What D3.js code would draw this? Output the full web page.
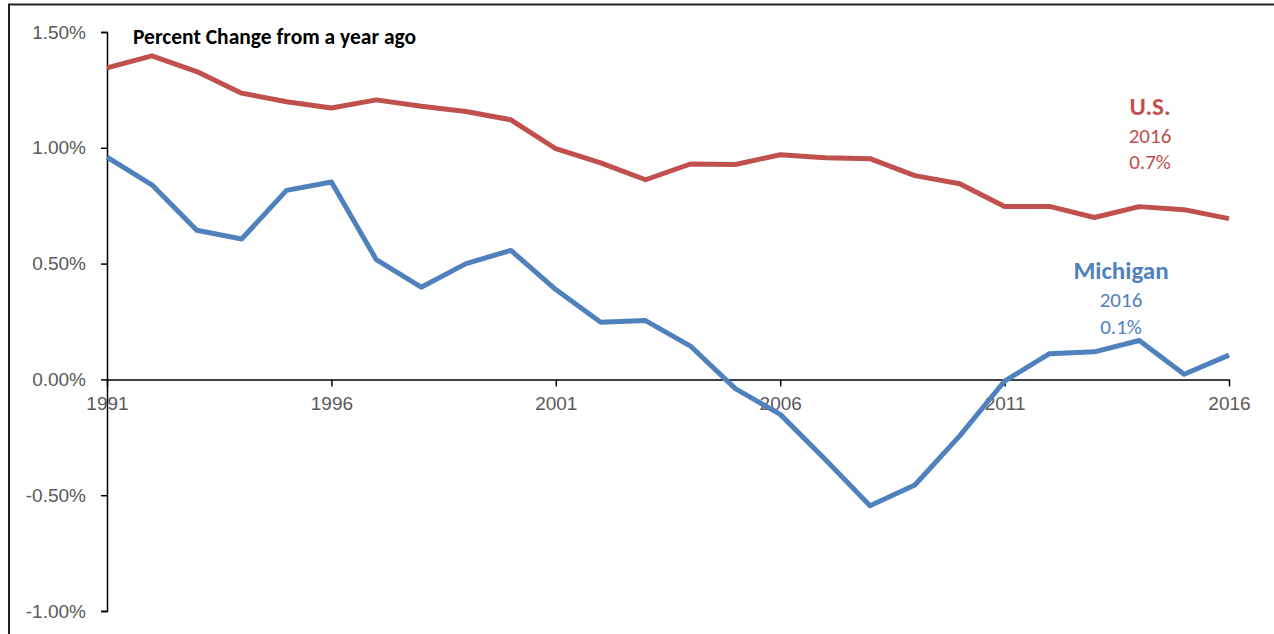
<!DOCTYPE html>
<html>
<head>
<meta charset="utf-8">
<script src="https://cdn.jsdelivr.net/npm/d3@7"></script>
<style>
  body { margin: 0; background: #fff; }
  svg { display: block; font-family: Carlito, Calibri, Lato, "Open Sans", sans-serif; }
  .tick text { fill: #595959; font-size: 19px; }
</style>
</head>
<body>
<div id="chart"></div>
<script>
var years = d3.range(1991, 2017);

// percent change from a year ago
var usValues = [1.345, 1.397, 1.329, 1.236, 1.199, 1.172, 1.207, 1.179, 1.157, 1.121,
  0.996, 0.935, 0.862, 0.930, 0.928, 0.970, 0.957, 0.953, 0.880, 0.845,
  0.747, 0.747, 0.699, 0.746, 0.733, 0.694];
var miValues = [0.960, 0.840, 0.644, 0.606, 0.816, 0.852, 0.517, 0.398, 0.500, 0.557,
  0.388, 0.247, 0.254, 0.144, -0.040, -0.151, -0.345, -0.546, -0.456, -0.244,
  -0.007, 0.111, 0.119, 0.168, 0.022, 0.105];

var yTicks = [-1.0, -0.5, 0, 0.5, 1.0, 1.5];
var xTickYears = [1991, 1996, 2001, 2006, 2011, 2016];

var svgWidth = 1274;
var svgHeight = 634;

var margin = { top: 32, right: 45, bottom: 23, left: 107 };
var height = 611 - margin.top;
var width = 1229 - margin.left;

var svg = d3.select("#chart")
  .append("svg")
  .attr("width", svgWidth)
  .attr("height", svgHeight);

// outer frame of the chart area
svg.append("path")
  .attr("d", "M9,640 L9,4.5 L1280,4.5")
  .attr("fill", "none")
  .attr("stroke", "#222")
  .attr("stroke-width", 2);

var chartGroup = svg.append("g")
  .attr("transform", `translate(${margin.left}, ${margin.top})`);

var xScale = d3.scaleLinear()
  .domain([1991, 2016])
  .range([0, width]);

var yScale = d3.scaleLinear()
  .domain([-1.0, 1.5])
  .range([height, 0]);

var leftAxis = d3.axisLeft(yScale)
  .tickValues(yTicks)
  .tickSize(6)
  .tickPadding(15)
  .tickFormat(d => d.toFixed(2) + "%");

var yAxisG = chartGroup.append("g").call(leftAxis);
yAxisG.select(".domain").attr("stroke", "#000").attr("stroke-width", 1.5);
yAxisG.selectAll(".tick line").attr("stroke", "#000").attr("stroke-width", 1.5);

var bottomAxis = d3.axisBottom(xScale)
  .tickValues(xTickYears)
  .tickSize(7)
  .tickSizeOuter(0)
  .tickPadding(10)
  .tickFormat(d3.format("d"));

var xAxisG = chartGroup.append("g")
  .attr("transform", `translate(0, ${yScale(0)})`)
  .call(bottomAxis);
xAxisG.select(".domain").attr("stroke", "#000").attr("stroke-width", 1.5);
xAxisG.selectAll(".tick line").attr("stroke", "#000").attr("stroke-width", 1.5);

var line = d3.line()
  .x((d, i) => xScale(years[i]))
  .y(d => yScale(d));

chartGroup.append("path")
  .datum(usValues)
  .attr("fill", "none")
  .attr("stroke", "#C0504D")
  .attr("stroke-width", 5)
  .attr("stroke-linejoin", "round")
  .attr("d", line);

chartGroup.append("path")
  .datum(miValues)
  .attr("fill", "none")
  .attr("stroke", "#4F81BD")
  .attr("stroke-width", 5)
  .attr("stroke-linejoin", "round")
  .attr("d", line);

// title inside plot
svg.append("text")
  .attr("x", 133)
  .attr("y", 44)
  .attr("font-size", "21.5px")
  .attr("font-weight", "bold")
  .attr("fill", "#000")
  .text("Percent Change from a year ago");

// series labels
var usLabel = svg.append("g").attr("fill", "#C0504D").attr("text-anchor", "middle");
usLabel.append("text").attr("x", 1150).attr("y", 115)
  .attr("font-size", "25px").attr("font-weight", "bold").text("U.S.");
usLabel.append("text").attr("x", 1150).attr("y", 143)
  .attr("font-size", "21px").text("2016");
usLabel.append("text").attr("x", 1150).attr("y", 169)
  .attr("font-size", "21px").text("0.7%");

var miLabel = svg.append("g").attr("fill", "#4F81BD").attr("text-anchor", "middle");
miLabel.append("text").attr("x", 1121).attr("y", 279)
  .attr("font-size", "25px").attr("font-weight", "bold").text("Michigan");
miLabel.append("text").attr("x", 1121).attr("y", 307)
  .attr("font-size", "21px").text("2016");
miLabel.append("text").attr("x", 1121).attr("y", 334)
  .attr("font-size", "21px").text("0.1%");
</script>
</body>
</html>
